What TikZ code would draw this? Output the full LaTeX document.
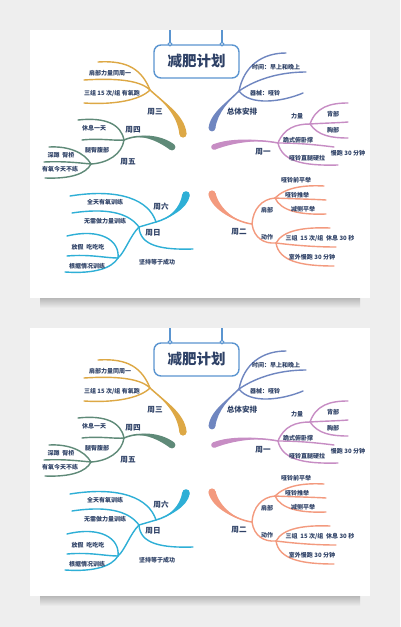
\documentclass[tikz,border=0pt]{standalone}
\usepackage{fontspec}
\newfontfamily\cjk{Noto Sans CJK SC}
\usetikzlibrary{calc}
\definecolor{bg}{HTML}{EEEEEE}
\definecolor{txt}{HTML}{2E4166}
\definecolor{ttl}{HTML}{5B95D0}
\definecolor{gold}{HTML}{DDA845}
\definecolor{green}{HTML}{5F8A78}
\definecolor{blue}{HTML}{6F86C0}
\definecolor{purple}{HTML}{C78DC4}
\definecolor{salmon}{HTML}{F39A7E}
\definecolor{cyan}{HTML}{2EAFD6}
\tikzset{
  leaf/.style={font=\cjk\bfseries\fontsize{6}{7}\selectfont, text=txt, inner sep=0pt},
  topic/.style={font=\cjk\bfseries\fontsize{7.6}{8}\selectfont, text=txt, inner sep=0pt},
  br/.style={line width=1.4pt, line cap=round, draw=#1},
}
% tapered trunk: color, P0, C1, C2, P3, half width
\newcommand\trunk[6]{%
  \fill[#1] (#2) .. controls (#3) and ($(#4)!#6!-90:(#5)$) .. ($(#5)!#6!90:(#4)$)
     -- ($(#5)!#6!-90:(#4)$) .. controls ($(#4)!#6!90:(#5)$) and (#3) .. (#2) -- cycle;
  \fill[#1] (#5) circle[radius=#6];
  \draw[#1, line width=1.5pt, line cap=round] (#2) .. controls (#3) and (#4) .. (#5);
}
\newcommand\mymap{%
  % card and shadow
  \shade[top color=black!30, bottom color=bg] (40,297) rectangle (360,308);
  \fill[white] (30,30) rectangle (370,298);
  % title
  \draw[ttl, line width=1.3pt] (170,30) -- (170,44) (222,30) -- (222,44);
  \node[draw=ttl, line width=1.4pt, rounded corners=7pt, minimum width=85pt,
        minimum height=33pt, fill=white] (title) at (196.5,61.5) {};
  \node[font=\cjk\bfseries\fontsize{14.5}{16}\selectfont, text=txt] (titletext) at (title.center) {减肥计划};
  \filldraw[fill=white, draw=ttl, line width=1pt] (170,44) circle[radius=1.8pt] (222,44) circle[radius=1.8pt];
  % ---- gold: Wed
  \coordinate (g0) at (150,90);
  \trunk{gold}{150,90}{162,101}{181,114}{183,134}{3.6pt}
  \draw[br=gold] (98,62) .. controls (128,60) and (142,70) .. (g0);
  \draw[br=gold] (84,80) .. controls (115,78) and (140,80) .. (g0);
  \draw[br=gold] (84,103) .. controls (115,105) and (140,100) .. (g0);
  \node[leaf] (ga) at (110,73) {肩部力量同周一};
  \node[leaf] (gb) at (112,93) {三组 15 次/组 有氧跑};
  \node[topic] (gt) at (155,112) {周三};
  % ---- green: Thu / Fri
  \coordinate (j1) at (124,140);
  \coordinate (j2) at (91,164);
  \trunk{green}{124,140}{140,133}{158,137}{172,147}{3.4pt}
  \draw[br=green] (78,120) .. controls (105,117) and (121,124) .. (j1);
  \draw[br=green] (82,140) .. controls (100,138) and (115,141) .. (j1);
  \draw[br=green] (j1) .. controls (122,154) and (108,163) .. (j2);
  \draw[br=green] (49,147) .. controls (68,146) and (84,152) .. (j2);
  \draw[br=green] (44,162) .. controls (65,161) and (80,163) .. (j2);
  \draw[br=green] (45,178) .. controls (70,179) and (86,174) .. (j2);
  \node[leaf] (na) at (94,128) {休息一天};
  \node[topic] (nt) at (133,130) {周四};
  \node[leaf] (nb) at (97,150) {腿臀腹部};
  \node[topic] (nf) at (128,162) {周五};
  \node[leaf] (nc) at (61,155) {深蹲\ \ 臀桥};
  \node[leaf] (nd) at (60,169) {有氧今天不练};
  % ---- blue: overall
  \coordinate (b0) at (239,91);
  \trunk{blue}{239,91}{230,100}{214,112}{212,128}{3.4pt}
  \draw[br=blue] (b0) .. controls (244,66) and (262,53) .. (286,53);
  \draw[br=blue] (b0) .. controls (258,78) and (282,72) .. (306,72);
  \draw[br=blue] (b0) .. controls (250,106) and (282,102) .. (303,93);
  \node[leaf] (ba) at (276,67) {时间：早上和晚上};
  \node[leaf] (bb) at (265,93) {器械：哑铃};
  \node[topic] (bt) at (242,112) {总体安排};
  % ---- purple: Mon
  \coordinate (p0) at (278,143);
  \coordinate (p1) at (310,124);
  \trunk{purple}{278,143}{258,139}{232,140}{214,147}{2.8pt}
  \draw[br=purple] (p0) .. controls (284,128) and (296,124) .. (p1);
  \draw[br=purple] (p1) .. controls (316,107) and (330,103) .. (348,103);
  \draw[br=purple] (p1) .. controls (325,123) and (336,123) .. (348,122);
  \draw[br=purple] (p1) .. controls (318,136) and (332,138) .. (348,138);
  \draw[br=purple] (p0) .. controls (300,143) and (318,145) .. (334,147);
  \draw[br=purple] (p0) .. controls (282,161) and (302,166) .. (338,165);
  \node[leaf] (pa) at (297,116) {力量};
  \node[leaf] (pb) at (333,114) {背部};
  \node[leaf] (pc) at (333,130) {胸部};
  \node[leaf] (pd) at (298,140) {跪式俯卧撑};
  \node[topic] (pt) at (263,152) {周一};
  \node[leaf] (pe) at (348,153) {慢跑 30 分钟};
  \node[leaf] (pf) at (307,158) {哑铃直腿硬拉};
  % ---- salmon: Tue
  \coordinate (s0) at (252,224);
  \coordinate (s1) at (275,198);
  \coordinate (s2) at (276,243);
  \trunk{salmon}{252,224}{236,222}{216,210}{212,194}{3.6pt}
  \draw[br=salmon] (s0) .. controls (253,209) and (262,199) .. (s1);
  \draw[br=salmon] (s1) .. controls (286,187) and (305,185) .. (324,186);
  \draw[br=salmon] (s1) .. controls (295,199) and (310,199) .. (326,200);
  \draw[br=salmon] (s1) .. controls (281,211) and (300,215) .. (326,214);
  \draw[br=salmon] (s0) .. controls (254,238) and (264,244) .. (s2);
  \draw[br=salmon] (s2) .. controls (283,230) and (305,227) .. (330,228);
  \draw[br=salmon] (s2) .. controls (300,246) and (320,247) .. (336,247);
  \draw[br=salmon] (s2) .. controls (279,261) and (300,266) .. (334,266);
  \node[leaf] (sa) at (296,180) {哑铃前平举};
  \node[leaf] (sb) at (297,195) {哑铃推举};
  \node[leaf] (sc) at (267,210) {肩部};
  \node[leaf] (sd) at (303,209) {减侧平举};
  \node[topic] (st) at (239,232) {周二};
  \node[leaf] (se) at (267,237) {动作};
  \node[leaf] (sf) at (320,238) {三组\ \ 15 次/组\ \ 休息 30 秒};
  \node[leaf] (sg) at (312,257) {室外慢跑 30 分钟};
  % ---- cyan: Sat / Sun
  \coordinate (c0) at (156,222);
  \coordinate (c1) at (139,227);
  \coordinate (c2) at (118,258);
  \trunk{cyan}{156,222}{170,218}{184,208}{186,195}{3.8pt}
  \draw[br=cyan] (70,196) .. controls (120,188) and (149,200) .. (c0);
  \draw[br=cyan] (c0) -- (c1);
  \draw[br=cyan] (72,213) .. controls (105,208) and (128,212) .. (c1);
  \draw[br=cyan] (c1) .. controls (140,246) and (162,250) .. (193,249);
  \draw[br=cyan] (c1) .. controls (130,236) and (125,252) .. (c2);
  \draw[br=cyan] (67,236) .. controls (100,228) and (120,240) .. (c2);
  \draw[br=cyan] (67,256) .. controls (90,254) and (105,258) .. (c2);
  \draw[br=cyan] (65,272) .. controls (95,274) and (112,268) .. (c2);
  \node[leaf] (ca) at (105,202) {全天有氧训练};
  \node[topic] (ct) at (161,207) {周六};
  \node[leaf] (cb) at (105,221) {无需做力量训练};
  \node[topic] (cs) at (153,233) {周日};
  \node[leaf] (cc) at (88,247) {放假\ \ 吃吃吃};
  \node[leaf] (cd) at (87,266) {根据情况训练};
  \node[leaf] (ce) at (157,262) {坚持等于成功};
}
\begin{document}
\begin{tikzpicture}[x=1pt,y=-1pt]
  \useasboundingbox (0,0) rectangle (400,627);
  \fill[bg] (0,0) rectangle (400,627);
  \mymap
  \begin{scope}[shift={(0,298)}]
    \mymap
  \end{scope}
\end{tikzpicture}
\end{document}
